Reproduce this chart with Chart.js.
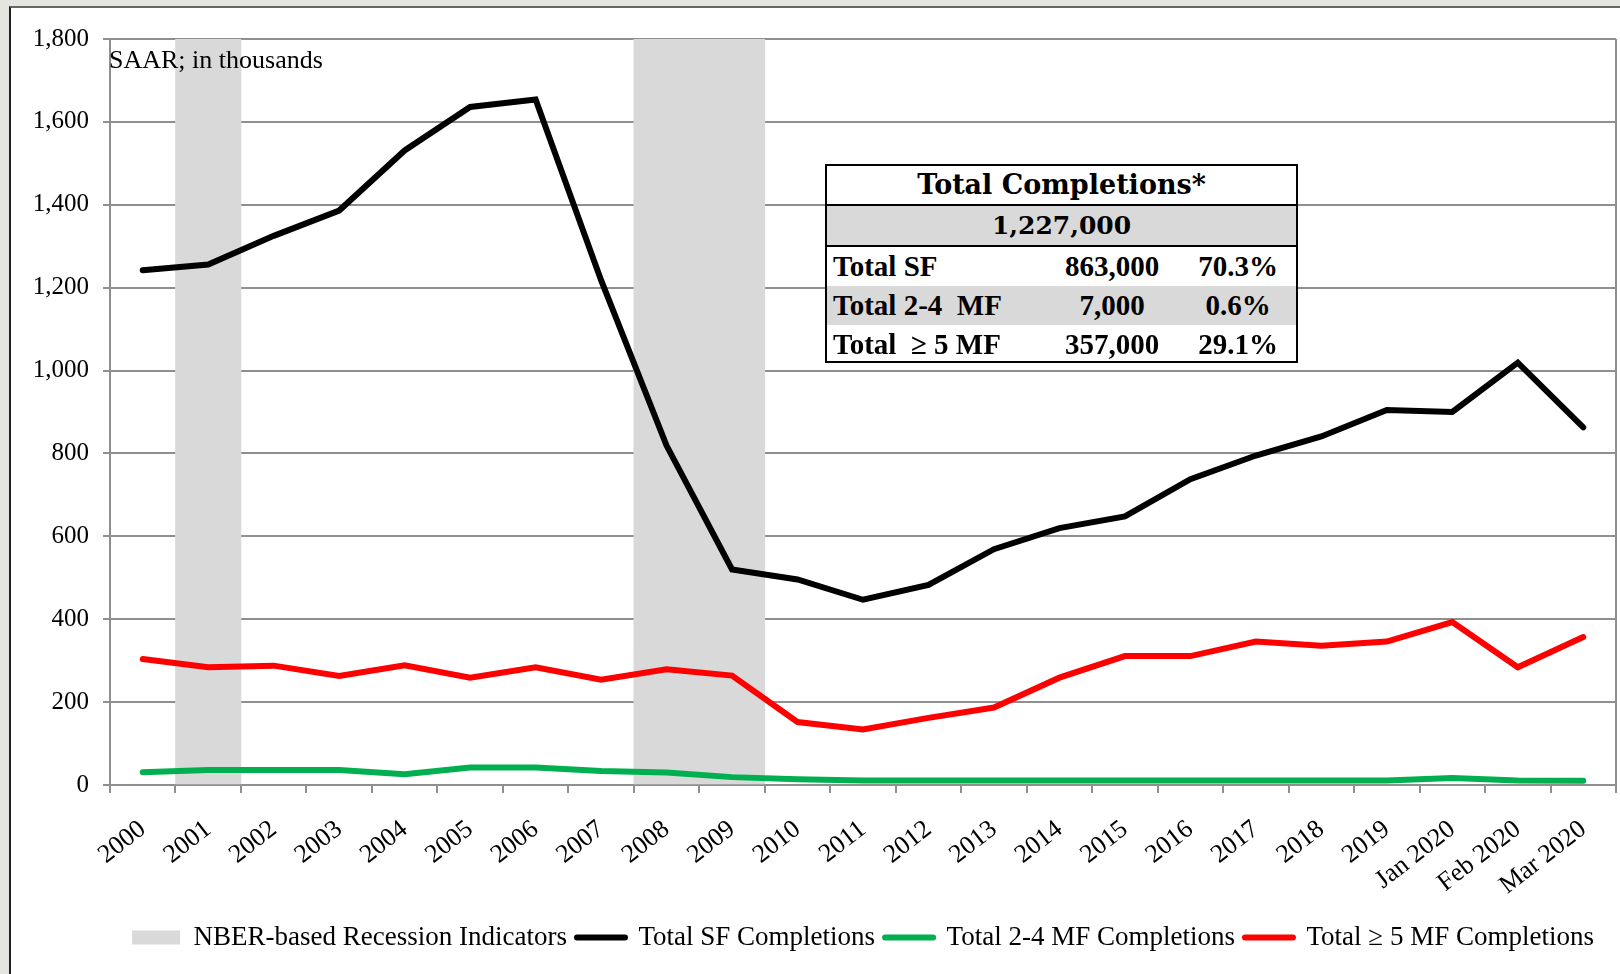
<!DOCTYPE html>
<html>
<head>
<meta charset="utf-8">
<script src="https://cdn.jsdelivr.net/npm/chart.js@4.4.1/dist/chart.umd.min.js"></script>
<style>
  html, body { margin: 0; padding: 0; }
  body { width: 1620px; height: 974px; background: #e4e4e1; position: relative; overflow: hidden; }
  #frame {
    position: absolute; left: 9px; top: 6px; width: 1611px; height: 968px;
    background: #fff; border-left: 2px solid #222; border-top: 2px solid #666; box-sizing: border-box;
  }
  #wrap { position: absolute; left: 0; top: 0; width: 1609px; height: 966px; }
  #totals {
    position: absolute; left: 825px; top: 164px; width: 473px; height: 199px;
    border: 2px solid #000; box-sizing: border-box; background: #fff;
    font-family: "Liberation Serif", serif; font-weight: bold; color: #000;
  }
  #totals .row { position: relative; height: 39px; line-height: 39px; }
  #totals .head { font-family: "DejaVu Serif", serif; font-size: 27px; text-align: center; border-bottom: 2px solid #000; height: 38px; line-height: 38px; }
  #totals .grand { font-family: "DejaVu Serif", serif; font-size: 25px; text-align: center; background: #d9d9d9; border-bottom: 2px solid #000; }
  #totals .grey { background: #d9d9d9; }
  #totals .lab { position: absolute; left: 6px; font-size: 29px; }
  #totals .val { position: absolute; left: 215px; width: 140px; text-align: center; font-size: 29px; }
  #totals .pct { position: absolute; left: 351px; width: 120px; text-align: center; font-size: 29px; }
</style>
</head>
<body>
<div id="frame">
  <div id="wrap"><canvas id="chart"></canvas></div>
</div>
<div id="totals">
  <div class="row head">Total Completions*</div>
  <div class="row grand">1,227,000</div>
  <div class="row"><span class="lab">Total SF</span><span class="val">863,000</span><span class="pct">70.3%</span></div>
  <div class="row grey"><span class="lab">Total 2-4&nbsp; MF</span><span class="val">7,000</span><span class="pct">0.6%</span></div>
  <div class="row"><span class="lab">Total&nbsp; ≥ 5 MF</span><span class="val">357,000</span><span class="pct">29.1%</span></div>
</div>
<script>
const labels = ['2000', '2001', '2002', '2003', '2004', '2005', '2006', '2007', '2008', '2009',
  '2010', '2011', '2012', '2013', '2014', '2015', '2016', '2017', '2018', '2019',
  'Jan 2020', 'Feb 2020', 'Mar 2020'];

const recessionYears = ['2001', '2008', '2009'];

// thousands, SAAR
const sfCompletions = [1242, 1256, 1325, 1386, 1531, 1636, 1654, 1218, 819, 520,
  496, 447, 483, 569, 620, 648, 738, 795, 841, 905, 900, 1019, 863];
const mf24Completions = [31, 36, 36, 36, 26, 42, 42, 34, 30, 19,
  14, 11, 11, 11, 11, 11, 11, 11, 11, 11, 17, 11, 10];
const mf5Completions = [304, 284, 288, 263, 289, 259, 284, 254, 279, 264,
  152, 134, 162, 187, 259, 311, 311, 346, 336, 346, 393, 284, 357];

const yTicks = [0, 200, 400, 600, 800, 1000, 1200, 1400, 1600, 1800];

const gridGrey = '#8f8f8f';
const serif = '"Liberation Serif", "Times New Roman", serif';

const plotFrame = {
    id: 'plotFrame',
    beforeDatasetsDraw(chart) {
        const { ctx, chartArea } = chart;
        ctx.save();
        ctx.strokeStyle = gridGrey;
        ctx.lineWidth = 2;
        ctx.beginPath();
        ctx.moveTo(chartArea.right, chartArea.top);
        ctx.lineTo(chartArea.right, chartArea.bottom);
        ctx.stroke();
        ctx.restore();
    },
    afterDatasetsDraw(chart) {
        const { ctx, chartArea } = chart;
        ctx.save();
        ctx.fillStyle = '#000';
        ctx.font = '26px ' + serif;
        ctx.textBaseline = 'alphabetic';
        ctx.fillText('SAAR; in thousands', chartArea.left - 1, chartArea.top + 29);
        ctx.restore();
    }
};

const lineDataset = (label, data, color) => ({
    type: 'line',
    label,
    data,
    borderColor: color,
    backgroundColor: color,
    borderWidth: 6,
    borderCapStyle: 'round',
    pointRadius: 0,
    pointHoverRadius: 0,
    tension: 0,
    fill: false,
    order: 0
});

new Chart(document.getElementById('chart'), {
    data: {
        labels,
        datasets: [
            {
                type: 'bar',
                label: 'NBER-based Recession Indicators',
                data: labels.map(l => recessionYears.includes(l) ? yTicks[yTicks.length - 1] : null),
                backgroundColor: '#d9d9d9',
                borderWidth: 0,
                barPercentage: 1,
                categoryPercentage: 1,
                order: 1
            },
            lineDataset('Total SF Completions', sfCompletions, '#000000'),
            lineDataset('Total 2-4 MF Completions', mf24Completions, '#00b050'),
            lineDataset('Total ≥ 5 MF Completions', mf5Completions, '#ff0000')
        ]
    },
    options: {
        responsive: true,
        maintainAspectRatio: false,
        animation: false,
        layout: { padding: { top: 31, right: 4, bottom: 13, left: 0 } },
        plugins: {
            tooltip: { enabled: false },
            legend: {
                position: 'bottom',
                fullSize: false,
                labels: {
                    font: { family: serif, size: 27 },
                    color: '#000',
                    usePointStyle: true,
                    pointStyleWidth: 48,
                    boxHeight: 14,
                    padding: 10,
                    generateLabels: chart => chart.data.datasets.map((ds, i) => ({
                        text: ds.label,
                        fillStyle: ds.backgroundColor,
                        strokeStyle: ds.type === 'bar' ? ds.backgroundColor : ds.borderColor,
                        lineWidth: ds.type === 'bar' ? 0 : 6,
                        lineCap: 'round',
                        pointStyle: ds.type === 'bar' ? 'rect' : 'line',
                        fontColor: '#000',
                        hidden: false,
                        datasetIndex: i
                    }))
                }
            }
        },
        scales: {
            x: {
                offset: true,
                afterFit: scale => {
                    scale.height = 129;
                    scale.paddingLeft = 0;
                    scale.paddingRight = 0;
                },
                grid: {
                    offset: true,
                    drawOnChartArea: false,
                    drawTicks: true,
                    tickLength: 8,
                    color: gridGrey,
                    lineWidth: 2
                },
                border: { color: gridGrey, width: 2 },
                ticks: {
                    color: '#000',
                    font: { family: serif, size: 26 },
                    minRotation: 38,
                    maxRotation: 38,
                    autoSkip: false,
                    padding: 21
                }
            },
            y: {
                min: yTicks[0],
                max: yTicks[yTicks.length - 1],
                afterFit: scale => { scale.width = 99; },
                afterBuildTicks: scale => { scale.ticks = yTicks.map(v => ({ value: v })); },
                grid: { color: gridGrey, lineWidth: 2, tickLength: 7 },
                border: { color: gridGrey, width: 2 },
                ticks: {
                    color: '#000',
                    font: { family: serif, size: 25 },
                    padding: 14,
                    callback: v => v.toLocaleString('en-US')
                }
            }
        }
    },
    plugins: [plotFrame]
});
</script>
</body>
</html>
